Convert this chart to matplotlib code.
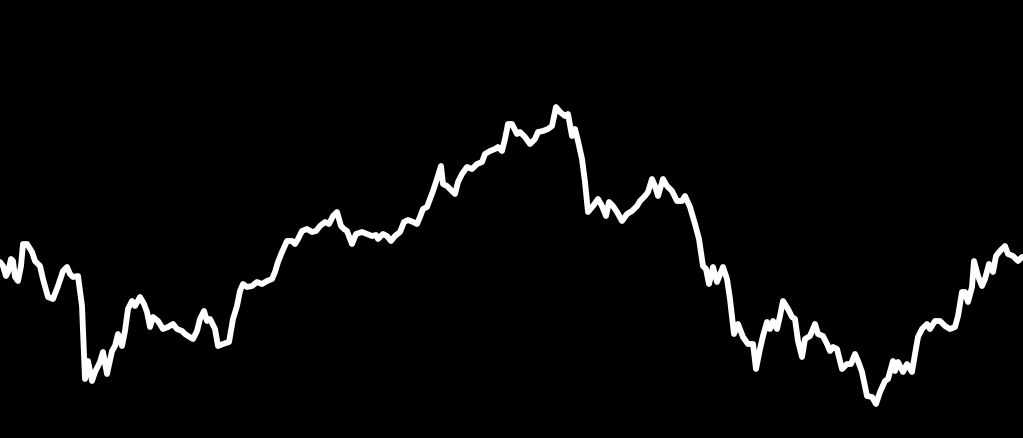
import matplotlib
matplotlib.use("Agg")
import matplotlib.pyplot as plt

# series (x = step, y = level)
days = [0, 3, 6, 8, 11, 13, 15, 18, 21, 23, 27, 32, 35, 40, 43, 48, 53, 58, 63, 67,
        70, 73, 78, 82, 85, 88, 92, 95, 100, 103, 107, 112, 115, 118, 122, 125, 128, 132, 135, 140,
        144, 147, 150, 153, 158, 163, 168, 173, 177, 182, 185, 188, 193, 197, 200, 204, 207, 210, 215, 218,
        223, 229, 233, 237, 240, 243, 247, 252, 257, 262, 267, 272, 275, 278, 282, 287, 292, 295, 298, 302,
        307, 312, 316, 320, 325, 329, 333, 337, 341, 344, 347, 352, 356, 362, 367, 372, 376, 378, 383, 387,
        391, 395, 400, 404, 408, 413, 417, 420, 423, 427, 430, 433, 437, 441, 443, 447, 450, 455, 458, 462,
        467, 472, 477, 482, 485, 490, 495, 498, 502, 505, 508, 512, 517, 520, 525, 530, 535, 538, 543, 548,
        552, 556, 560, 565, 568, 572, 575, 578, 582, 585, 588, 593, 598, 602, 606, 609, 613, 617, 622, 627,
        632, 637, 640, 645, 648, 652, 655, 658, 663, 667, 672, 677, 682, 685, 690, 695, 699, 703, 706, 709,
        713, 717, 723, 727, 730, 734, 738, 743, 748, 753, 756, 760, 763, 767, 770, 773, 777, 780, 783, 788,
        792, 795, 798, 802, 805, 810, 815, 818, 823, 827, 830, 833, 837, 842, 847, 851, 855, 858, 862, 867,
        872, 876, 880, 885, 888, 893, 895, 898, 903, 907, 912, 915, 918, 922, 927, 930, 935, 940, 945, 950,
        955, 958, 962, 965, 968, 972, 974, 978, 982, 985, 989, 993, 996, 1000, 1005, 1008, 1013, 1018, 1022]

pix = [263, 267, 277, 273, 260, 262, 278, 282, 267, 245, 245, 253, 262, 267, 280, 298, 300, 287, 272, 268,
       275, 278, 277, 307, 380, 362, 382, 373, 363, 353, 375, 352, 347, 335, 347, 332, 310, 302, 307, 298,
       305, 313, 328, 318, 322, 330, 328, 325, 330, 332, 335, 337, 340, 332, 320, 312, 322, 320, 330, 347,
       345, 343, 320, 307, 292, 285, 288, 287, 283, 285, 282, 280, 273, 263, 253, 242, 242, 245, 240, 232,
       230, 233, 232, 227, 223, 225, 217, 213, 227, 230, 232, 245, 235, 233, 235, 237, 236, 240, 235, 237,
       242, 237, 233, 223, 221, 223, 225, 218, 210, 208, 200, 192, 180, 167, 185, 187, 190, 195, 183, 175,
       168, 170, 165, 163, 155, 152, 150, 148, 152, 140, 125, 125, 135, 133, 138, 145, 140, 133, 132, 130,
       127, 108, 113, 117, 115, 137, 130, 142, 160, 183, 213, 207, 200, 207, 217, 203, 207, 213, 222, 215,
       212, 207, 202, 197, 193, 180, 187, 197, 180, 187, 192, 202, 202, 197, 208, 225, 240, 267, 270, 285,
       268, 283, 268, 280, 300, 335, 325, 338, 345, 345, 370, 350, 337, 323, 330, 322, 330, 317, 302, 310,
       318, 320, 342, 358, 340, 337, 325, 335, 337, 345, 352, 348, 350, 370, 365, 365, 355, 362, 373, 397,
       398, 405, 393, 382, 380, 362, 372, 363, 373, 365, 373, 355, 338, 330, 325, 330, 322, 322, 327, 330,
       328, 317, 293, 293, 303, 288, 262, 277, 287, 280, 265, 273, 257, 252, 247, 255, 257, 262, 258]

H = 439
level = [H - p for p in pix]

fig = plt.figure(figsize=(10.23, 4.39), dpi=100, facecolor='black')
ax = fig.add_axes([0, 0, 1, 1])
ax.set_facecolor('black')
ax.plot(days, level, color='white', linewidth=4.2, solid_joinstyle='round', solid_capstyle='round')
ax.set_xlim(0, 1023)
ax.set_ylim(0, H)
ax.axis('off')
fig.savefig('out.png', dpi=100, facecolor='black')
